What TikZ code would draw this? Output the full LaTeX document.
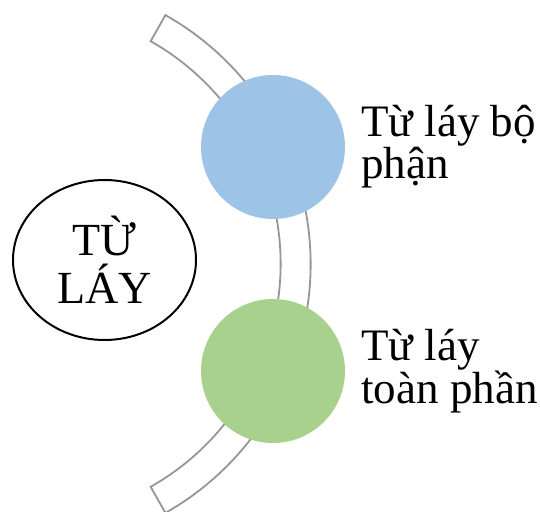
\documentclass[tikz,border=0pt]{standalone}
\usepackage{fontspec}
\setmainfont{Liberation Serif}
\usepackage{tikz}
\usetikzlibrary{positioning,shapes,calc}
\definecolor{dotblue}{RGB}{157,195,230}
\definecolor{dotgreen}{RGB}{169,209,142}
\definecolor{bandgray}{RGB}{150,150,150}
\newcommand{\dotsize}{144pt}
\newcommand{\inr}{256pt}
\newcommand{\outr}{286pt}

\begin{document}
\begin{tikzpicture}[x=1pt,y=1pt,
        dot/.style={circle, inner sep=0pt, minimum size=\dotsize},
        itemtext/.style={inner sep=0pt, align=left, anchor=west, font=\fontsize{45}{42}\selectfont},
        topic/.style={ellipse, draw=black, line width=2pt, inner sep=0pt, minimum width=183pt,
                minimum height=160pt, align=center, font=\fontsize{46}{48}\selectfont}]
                %\draw[help lines] (0,0) grid (540,511);
                \useasboundingbox (0,0) rectangle (540,511);
                \coordinate (c) at (24.6,247);
                % curved band
                \draw[bandgray, line width=1.8pt, fill=white]
                        ($(c)+(60.5:\outr)$) arc[start angle=60.5, end angle=-60.5, radius=\outr]
                        -- ($(c)+(-60.5:\inr)$) arc[start angle=-60.5, end angle=60.5, radius=\inr] -- cycle;
                \node[dot, fill=dotblue] (blue) at (273,364) {};
                \node[dot, fill=dotgreen] (green) at (273,140) {};
                \node[itemtext, right=16pt of blue.east] (bluetext) {Từ láy bộ\\phận};
                \node[itemtext, right=16pt of green.east] (greentext) {Từ láy\\toàn phần};
                \node[topic] (tuláy) at (104.5,251) {TỪ\\LÁY};
        \end{tikzpicture}
\end{document}
